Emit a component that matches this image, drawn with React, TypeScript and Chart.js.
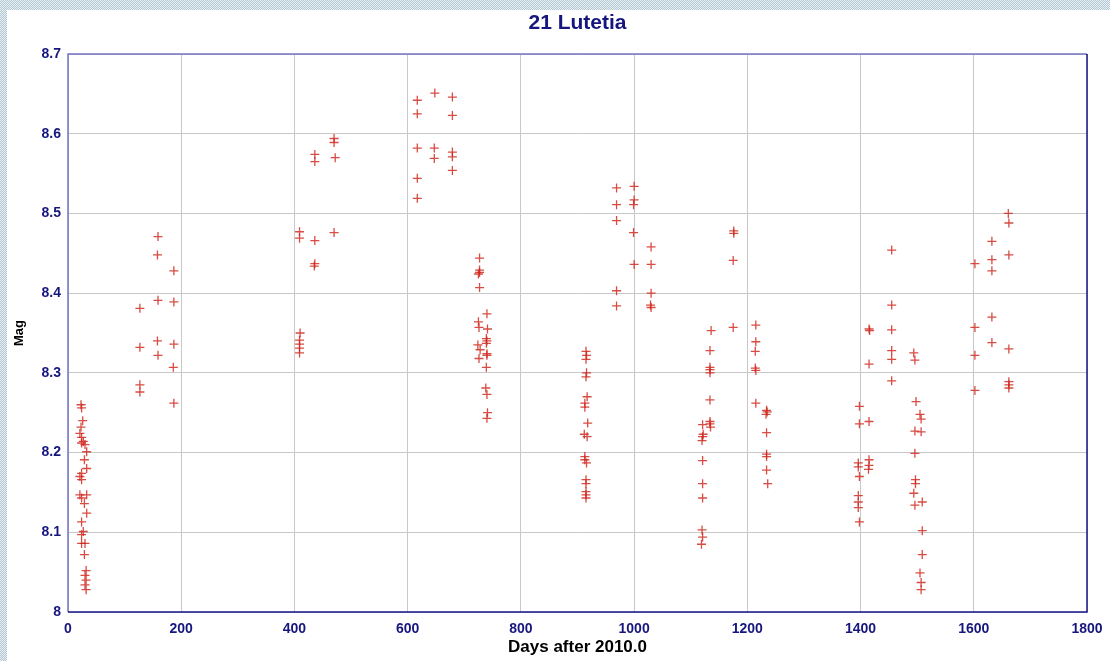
import React, { useEffect, useRef } from "react";
import { Chart, registerables } from "chart.js";

Chart.register(...registerables);

// Axis ticks
const xTickValues = [0, 200, 400, 600, 800, 1000, 1200, 1400, 1600, 1800];
const yTickValues = [8, 8.1, 8.2, 8.3, 8.4, 8.5, 8.6, 8.7];

// Observations, season 1 (days after 2010.0)
const days1 = [
  23, 24, 26, 23, 21, 24, 27, 24, 30, 33, 29, 33, 24, 21, 24, 21, 33, 24, 29, 33, 24, 27, 24, 30, 24, 29, 32, 30, 32, 30, 32,
  159, 158, 187, 159, 187, 127, 158, 187, 127, 159, 186, 127, 127, 187,
];
const mags1 = [
  8.26, 8.256, 8.24, 8.232, 8.224, 8.219, 8.214, 8.212, 8.21, 8.201, 8.191, 8.18, 8.174, 8.17, 8.166, 8.147, 8.147, 8.143, 8.136, 8.124, 8.113, 8.101, 8.097, 8.086, 8.086, 8.072, 8.052, 8.046, 8.04, 8.034, 8.028,
  8.471, 8.448, 8.428, 8.391, 8.389, 8.381, 8.34, 8.336, 8.332, 8.322, 8.307, 8.285, 8.276, 8.262,
];

// Season 2
const days2 = [
  470, 470, 436, 436, 472, 409, 409, 436, 470, 436, 435, 410, 409, 409, 409, 409,
  617, 648, 679, 617, 679, 617, 647, 647, 679, 679, 679, 617, 617,
  727, 727, 727, 725, 727, 740, 725, 726, 741, 739, 740, 739, 724, 728, 740, 726, 740, 739, 738, 740, 741, 740,
];
const mags2 = [
  8.594, 8.589, 8.574, 8.565, 8.57, 8.477, 8.469, 8.466, 8.476, 8.437, 8.434, 8.35, 8.341, 8.336, 8.331, 8.325,
  8.642, 8.651, 8.646, 8.625, 8.623, 8.582, 8.582, 8.569, 8.577, 8.571, 8.554, 8.544, 8.519,
  8.444, 8.429, 8.426, 8.424, 8.407, 8.374, 8.364, 8.357, 8.355, 8.343, 8.34, 8.337, 8.335, 8.329, 8.324, 8.318, 8.322, 8.307, 8.281, 8.273, 8.25, 8.243,
];

// Season 3
const days3 = [
  915, 916, 915, 916, 915, 917, 913, 913, 918, 912, 917, 913, 913, 916, 915, 915, 915, 915, 915,
  969, 1000, 969, 1000, 999, 969, 999, 1030, 1000, 1030, 969, 1030, 969, 1030, 1029,
  1176, 1176, 1175, 1175, 1136, 1215, 1215, 1214, 1134, 1134, 1134, 1134, 1214, 1215, 1134, 1215, 1234, 1235, 1233,
  1134, 1134, 1135, 1121, 1122, 1121, 1120, 1234, 1234, 1234, 1121, 1234, 1236, 1121, 1121, 1120, 1121, 1119,
];
const mags3 = [
  8.327, 8.322, 8.317, 8.3, 8.295, 8.27, 8.262, 8.257, 8.237, 8.223, 8.22, 8.195, 8.191, 8.187, 8.166, 8.161, 8.151, 8.147, 8.143,
  8.532, 8.534, 8.511, 8.517, 8.511, 8.491, 8.476, 8.458, 8.436, 8.436, 8.403, 8.4, 8.384, 8.382, 8.385,
  8.478, 8.475, 8.441, 8.357, 8.353, 8.36, 8.339, 8.327, 8.328, 8.307, 8.304, 8.3, 8.306, 8.303, 8.266, 8.262, 8.253, 8.251, 8.248,
  8.239, 8.236, 8.232, 8.235, 8.223, 8.22, 8.215, 8.225, 8.198, 8.195, 8.19, 8.178, 8.161, 8.161, 8.143, 8.103, 8.094, 8.085,
];

// Season 4
const days4 = [
  1455, 1455, 1415, 1416, 1455, 1455, 1455, 1494, 1496, 1415, 1455, 1398, 1498, 1505, 1507, 1398, 1415, 1496, 1507, 1496,
  1396, 1396, 1398, 1415, 1415, 1414, 1497, 1497, 1494, 1396, 1396, 1396, 1496, 1509, 1398, 1509, 1509, 1505, 1507, 1507,
  1661, 1662, 1632, 1602, 1632, 1662, 1632, 1632, 1602, 1632, 1662, 1602, 1662, 1662, 1662, 1602,
];
const mags4 = [
  8.454, 8.385, 8.355, 8.353, 8.354, 8.328, 8.317, 8.325, 8.316, 8.311, 8.29, 8.258, 8.264, 8.248, 8.242, 8.236, 8.239, 8.227, 8.226, 8.199,
  8.187, 8.182, 8.17, 8.191, 8.184, 8.179, 8.166, 8.161, 8.149, 8.146, 8.138, 8.131, 8.134, 8.138, 8.113, 8.102, 8.072, 8.049, 8.037, 8.028,
  8.5, 8.488, 8.465, 8.437, 8.442, 8.448, 8.428, 8.37, 8.357, 8.338, 8.33, 8.322, 8.289, 8.285, 8.281, 8.278,
];

const NAVY = "#16167e";
const FONT = "'Liberation Sans', Arial, sans-serif";

export default function App() {
  const ref = useRef<HTMLCanvasElement>(null);

  useEffect(() => {
    const allDays = [...days1, ...days2, ...days3, ...days4];
    const allMags = [...mags1, ...mags2, ...mags3, ...mags4];
    const points = allDays.map((d, i) => ({ x: d, y: allMags[i] }));

    const framePlugin = {
      id: "frame",
      afterDraw(chart: any) {
        const { ctx, chartArea: a } = chart;
        ctx.save();
        ctx.lineWidth = 1.5;
        ctx.strokeStyle = "#7474c4";
        ctx.beginPath();
        ctx.moveTo(a.left, a.bottom);
        ctx.lineTo(a.left, a.top);
        ctx.lineTo(a.right, a.top);
        ctx.stroke();
        ctx.strokeStyle = "#14148a";
        ctx.beginPath();
        ctx.moveTo(a.right, a.top);
        ctx.lineTo(a.right, a.bottom);
        ctx.lineTo(a.left, a.bottom);
        ctx.stroke();
        ctx.fillStyle = NAVY;
        ctx.font = `bold 21px ${FONT}`;
        ctx.textAlign = "center";
        ctx.textBaseline = "middle";
        ctx.fillText("21 Lutetia", (a.left + a.right) / 2, 23);
        ctx.restore();
      },
    };

    const tickFont = { family: FONT, size: 14, weight: "bold" as const };

    const chart = new Chart(ref.current!, {
      type: "scatter",
      data: {
        datasets: [
          {
            data: points,
            pointStyle: "cross",
            pointRadius: 4.5,
            pointBorderWidth: 1.3,
            borderColor: "rgba(206, 36, 26, 0.82)",
            backgroundColor: "rgba(206, 36, 26, 0.82)",
          },
        ],
      },
      options: {
        responsive: false,
        animation: false,
        layout: { padding: { left: 0, top: 54, right: 23, bottom: 0 } },
        plugins: {
          legend: { display: false },
          tooltip: { enabled: false },
          title: { display: false },
        },
        scales: {
          x: {
            type: "linear",
            min: 0,
            max: 1800,
            afterBuildTicks: (s: any) => {
              s.ticks = xTickValues.map((v) => ({ value: v }));
            },
            afterFit: (s: any) => {
              s.height = 49;
              s.paddingLeft = 0;
              s.paddingRight = 0;
            },
            grid: { color: "#c8c8c8", drawTicks: false, lineWidth: 1 },
            border: { display: false },
            ticks: {
              padding: 9,
              color: NAVY,
              font: tickFont,
              maxRotation: 0,
              autoSkip: false,
              callback: (v: any) => String(Math.round(Number(v))),
            },
            title: {
              display: true,
              text: "Days after 2010.0",
              color: "#000",
              font: { family: FONT, size: 17, weight: "bold" },
              padding: { top: 0, bottom: 3 },
            },
          },
          y: {
            type: "linear",
            min: 8,
            max: 8.7,
            afterBuildTicks: (s: any) => {
              s.ticks = yTickValues.map((v) => ({ value: v }));
            },
            afterFit: (s: any) => {
              s.width = 68;
              s.paddingTop = 0;
              s.paddingBottom = 0;
            },
            grid: { color: "#c8c8c8", drawTicks: false, lineWidth: 1 },
            border: { display: false },
            ticks: {
              padding: 7,
              color: NAVY,
              font: tickFont,
              autoSkip: false,
              callback: (v: any) => String(Number(Number(v).toFixed(1))),
            },
            title: {
              display: true,
              text: "Mag",
              color: "#000",
              font: { family: FONT, size: 13, weight: "bold" },
              padding: { top: 12, bottom: 0 },
            },
          },
        },
      },
      plugins: [framePlugin],
    });
    return () => chart.destroy();
  }, []);

  const checker =
    "repeating-conic-gradient(#b0c6d0 0% 25%, #eaf1f4 0% 50%) 0 0 / 2px 2px";

  return (
    <div style={{ position: "absolute", left: 0, top: 0, width: 1110, height: 661, background: "#fff", overflow: "hidden" }}>
      <canvas ref={ref} width={1110} height={661} style={{ display: "block", width: 1110, height: 661 }} />
      <div style={{ position: "absolute", left: 0, top: 0, width: 1110, height: 10, background: checker }} />
      <div style={{ position: "absolute", left: 0, top: 0, width: 7, height: 661, background: checker }} />
    </div>
  );
}
